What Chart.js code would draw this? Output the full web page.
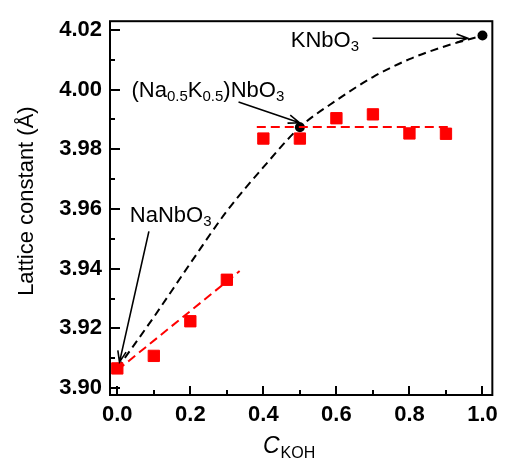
<!DOCTYPE html>
<html><head><meta charset="utf-8">
<script src="https://cdn.jsdelivr.net/npm/chart.js@4.4.0/dist/chart.umd.min.js"></script>
<style>html,body{margin:0;padding:0;background:#fff;overflow:hidden}#c{display:block}</style>
</head><body>
<canvas id="c" width="505" height="463"></canvas>
<script>
// ---- data ----
const cKOH = [0, 0.1, 0.2, 0.3, 0.4, 0.5, 0.6, 0.7, 0.8, 0.9];
const latticeMeasured = [3.9066, 3.9108, 3.9224, 3.9363, 3.9836, 3.9836, 3.9904, 3.9917, 3.9853, 3.9852];
const refX = [0, 0.5, 1.0];
const refLattice = [3.9068, 3.9874, 4.0181];
const trendX = [0, 0.1, 0.2, 0.3, 0.4, 0.5, 0.6, 0.7, 0.8, 0.9, 1.0];
const trendLattice = [3.9066, 3.9238, 3.9418, 3.9593, 3.9740, 3.9874, 3.9964, 4.0042, 4.0102, 4.0146, 4.0181];
const fitLowX = [0.0, 0.335];
const fitLowY = [3.9060, 3.9392];
const fitHighX = [0.382, 0.917];
const fitHighY = [3.9875, 3.9875];
const xTicks = [0, 0.2, 0.4, 0.6, 0.8, 1.0];
const xMinorTicks = [0.1, 0.3, 0.5, 0.7, 0.9];
const yTicks = [3.90, 3.92, 3.94, 3.96, 3.98, 4.00, 4.02];
const yMinorTicks = [3.91, 3.93, 3.95, 3.97, 3.99, 4.01];

// annotation labels: [text, isSubscript]
const annLabels = [
  { parts: [['KNbO', 0], ['3', 1]], x: 0.475, y: 4.0143 },
  { parts: [['(Na', 0], ['0.5', 1], ['K', 0], ['0.5', 1], [')NbO', 0], ['3', 1]], x: 0.039, y: 3.9975 },
  { parts: [['NaNbO', 0], ['3', 1]], x: 0.0343, y: 3.9558 }
];
const annArrows = [
  { from: [0.699, 4.0172], to: [0.9597, 4.0172] },
  { from: [0.332, 3.9958], to: [0.499, 3.9889] },
  { from: [0.0865, 3.9525], to: [0.006, 3.9087] }
];

const pts = (xs, ys) => xs.map((x, i) => ({ x: x, y: ys[i] }));
const FONT = '"Liberation Sans", Arial, sans-serif';

const decor = {
  id: 'decor',
  afterDraw(chart) {
    const ctx = chart.ctx, a = chart.chartArea;
    const xs = chart.scales.x, ys = chart.scales.y;
    ctx.save();
    ctx.strokeStyle = '#000';
    ctx.lineWidth = 2;
    // inward ticks
    ctx.beginPath();
    xTicks.forEach(v => { const p = Math.round(xs.getPixelForValue(v)); ctx.moveTo(p, a.bottom); ctx.lineTo(p, a.bottom - 9); });
    xMinorTicks.forEach(v => { const p = Math.round(xs.getPixelForValue(v)); ctx.moveTo(p, a.bottom); ctx.lineTo(p, a.bottom - 5); });
    yTicks.forEach(v => { const p = Math.round(ys.getPixelForValue(v)); ctx.moveTo(a.left, p); ctx.lineTo(a.left + 10, p); });
    yMinorTicks.forEach(v => { const p = Math.round(ys.getPixelForValue(v)); ctx.moveTo(a.left, p); ctx.lineTo(a.left + 5, p); });
    ctx.stroke();
    // frame
    ctx.strokeRect(a.left, a.top, a.right - a.left, a.bottom - a.top);

    // arrows
    ctx.lineWidth = 1.6;
    annArrows.forEach(ar => {
      const x1 = xs.getPixelForValue(ar.from[0]), y1 = ys.getPixelForValue(ar.from[1]);
      const x2 = xs.getPixelForValue(ar.to[0]), y2 = ys.getPixelForValue(ar.to[1]);
      const ang = Math.atan2(y2 - y1, x2 - x1);
      const L = 12, w = 0.36;
      ctx.beginPath();
      ctx.moveTo(x1, y1); ctx.lineTo(x2, y2);
      ctx.moveTo(x2 - L * Math.cos(ang - w), y2 - L * Math.sin(ang - w));
      ctx.lineTo(x2, y2);
      ctx.lineTo(x2 - L * Math.cos(ang + w), y2 - L * Math.sin(ang + w));
      ctx.stroke();
    });

    // annotation text
    ctx.fillStyle = '#000';
    ctx.textBaseline = 'alphabetic';
    ctx.textAlign = 'left';
    annLabels.forEach(lb => {
      let x = xs.getPixelForValue(lb.x);
      const y = ys.getPixelForValue(lb.y);
      lb.parts.forEach(([t, sub]) => {
        ctx.font = sub ? '15px ' + FONT : '22px ' + FONT;
        ctx.fillText(t, x, sub ? y + 4 : y);
        x += ctx.measureText(t).width;
      });
    });

    // y axis title
    ctx.save();
    ctx.translate(33, (a.top + a.bottom) / 2 - 7);
    ctx.rotate(-Math.PI / 2);
    ctx.textAlign = 'center';
    ctx.font = '22px ' + FONT;
    ctx.fillText('Lattice constant (Å)', 0, 0);
    ctx.restore();

    // x axis title
    ctx.font = 'italic 23px ' + FONT;
    let tx = 263;
    const ty = 453;
    ctx.fillText('C', tx, ty);
    tx += ctx.measureText('C').width + 1;
    ctx.font = '16px ' + FONT;
    ctx.fillText('KOH', tx, ty + 5);
    ctx.restore();
  }
};

new Chart(document.getElementById('c'), {
  type: 'scatter',
  data: {
    datasets: [
      { data: pts(fitLowX, fitLowY), showLine: true, borderColor: '#ff0000', borderWidth: 2, borderDash: [9, 5], pointRadius: 0, fill: false },
      { data: pts(fitHighX, fitHighY), showLine: true, borderColor: '#ff0000', borderWidth: 2, borderDash: [9, 5], pointRadius: 0, fill: false },
      { data: pts(cKOH, latticeMeasured), pointStyle: 'rect', pointRadius: 8, backgroundColor: '#ff0000', borderColor: '#ff0000', borderWidth: 1, showLine: false },
      { data: pts(trendX, trendLattice), showLine: true, borderColor: '#000', borderWidth: 2, borderDash: [8, 5], pointRadius: 0, cubicInterpolationMode: 'monotone', fill: false },
      { data: pts(refX, refLattice), pointStyle: 'circle', pointRadius: 5, backgroundColor: '#000', borderColor: '#000', borderWidth: 0, showLine: false }
    ]
  },
  options: {
    responsive: false,
    animation: false,
    devicePixelRatio: 1,
    layout: { padding: { top: 10, right: 8, left: 0, bottom: 0 } },
    plugins: { legend: { display: false }, tooltip: { enabled: false } },
    scales: {
      x: {
        type: 'linear', min: -0.02, max: 1.027,
        grid: { display: false, drawTicks: false },
        border: { display: false },
        afterBuildTicks: s => { s.ticks = xTicks.map(v => ({ value: v })); },
        afterFit: s => { s.height = 68; },
        ticks: { padding: 7, color: '#000', font: { family: FONT, size: 22, weight: 'bold' }, callback: v => Number(v).toFixed(1), maxRotation: 0, autoSkip: false }
      },
      y: {
        type: 'linear', min: 3.8977, max: 4.0229,
        grid: { display: false, drawTicks: false },
        border: { display: false },
        afterBuildTicks: s => { s.ticks = yTicks.map(v => ({ value: v })); },
        afterFit: s => { s.width = 110; },
        ticks: { padding: 8, color: '#000', font: { family: FONT, size: 22, weight: 'bold' }, callback: v => Number(v).toFixed(2), autoSkip: false }
      }
    }
  },
  plugins: [decor]
});
</script>
</body></html>
